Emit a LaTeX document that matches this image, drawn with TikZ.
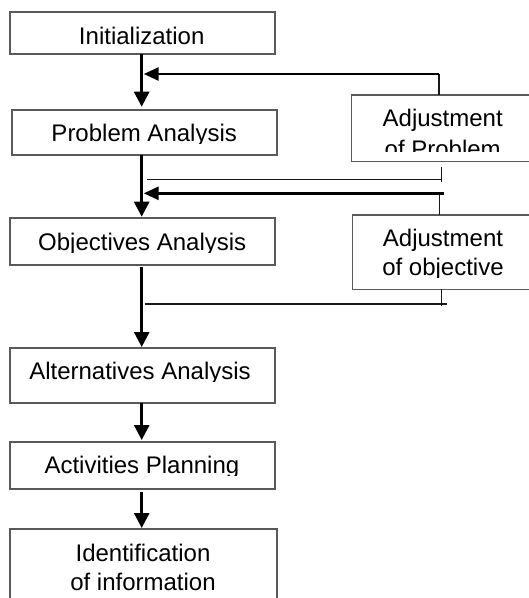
\documentclass[tikz,border=0pt]{standalone}
\usepackage{fontspec}
\setmainfont{Liberation Sans}
\usetikzlibrary{arrows.meta}
\begin{document}
\begin{tikzpicture}[x=1pt,y=-1pt,
  box/.style={draw=black!65, line width=1.1pt, inner sep=0pt, outer sep=0pt},
  txt/.style={font=\fontsize{24}{28}\selectfont, inner sep=0pt, anchor=base, text=black},
  mainarr/.style={line width=2.8pt, -{Triangle[length=15pt,width=15pt]}},
  fbarr/.style={line width=2.8pt, -{Triangle[length=15pt,width=13pt]}, shorten >=2pt},
  thinl/.style={line width=1.4pt, draw=black!90},
  stub/.style={line width=1.6pt, draw=black!90}]
\useasboundingbox (0,0) rectangle (529,598);
\clip (0,0) rectangle (529,598);

% boxes
\node[box, minimum width=265pt, minimum height=42pt] (init) at (142.5,33) {};
\node[box, minimum width=265pt, minimum height=45pt] (prob) at (144.5,132.5) {};
\node[box, minimum width=265pt, minimum height=47pt] (obj) at (142.5,241.5) {};
\node[box, minimum width=265pt, minimum height=55pt] (alt) at (142.5,375.5) {};
\node[box, minimum width=265pt, minimum height=47pt] (act) at (142.5,465.5) {};
\node[box, minimum width=267pt, minimum height=91pt] (ident) at (143.5,574.5) {};
\node[box, minimum width=188.3pt, minimum height=66.7pt] (adjp) at (445.85,128.35) {};
\node[box, minimum width=187.7pt, minimum height=74.3pt] (adjo) at (446.15,252.15) {};

% texts
\node[txt] (tinit) at (141.7,44) {Initialization};
\begin{scope}\clip (12,110) rectangle (277,143.3);
\node[txt] (tprob) at (144.2,141.7) {Problem Analysis};
\end{scope}
\begin{scope}\clip (352,95) rectangle (529,151);
\node[txt] (tadjp1) at (442.7,126.7) {Adjustment};
\node[txt] (tadjp2) at (442.7,157.7) {of Problem};
\end{scope}
\begin{scope}\clip (10,218) rectangle (275,252.3);
\node[txt] (tobj) at (142.2,250.3) {Objectives Analysis};
\end{scope}
\begin{scope}\clip (352,215) rectangle (529,277);
\node[txt] (tadjo1) at (443,246) {Adjustment};
\node[txt] (tadjo2) at (443,275) {of objective};
\end{scope}
\begin{scope}\clip (10,348) rectangle (275,381.3);
\node[txt] (talt) at (140,379.3) {Alternatives Analysis};
\end{scope}
\begin{scope}\clip (10,442) rectangle (275,475.3);
\node[txt] (tact) at (141.9,473.3) {Activities Planning};
\end{scope}
\node[txt] (tid1) at (143,561) {Identification};
\node[txt] (tid2) at (143,590) {of information};

% main flow
\coordinate (mx) at (141.7,0);
\draw[mainarr, shorten >=3.3pt] (init.south -| mx) -- (prob.north -| mx);
\draw[mainarr, shorten >=1.3pt] (prob.south -| mx) -- (obj.north -| mx);
\draw[mainarr, shorten <=2pt, shorten >=1pt] (obj.south -| mx) -- (alt.north -| mx);
\draw[mainarr, shorten >=2pt] (alt.south -| mx) -- (act.north -| mx);
\draw[mainarr, shorten <=3pt, shorten >=1pt] (act.south -| mx) -- (ident.north -| mx);

% feedback from Adjustment of Problem
\coordinate (f1) at (439,74);
\draw[stub] (adjp.north -| f1) -- (f1);
\draw[fbarr] (f1) -- (f1 -| mx);

% thin link Problem Analysis -> Adjustment of Problem
\coordinate (t1a) at (147,179.3);
\coordinate (t1b) at (441.7,179.3);
\coordinate (t1top) at (441.7,166.7);
\coordinate (t1bot) at (441.7,181.7);
\draw[thinl] (t1a) -- (t1b);
\draw[thinl] (t1top) -- (t1bot);

% feedback from Adjustment of objective
\coordinate (f2) at (444,193.3);
\coordinate (f2s) at (439.3,193.3);
\draw[stub] (adjo.north -| f2s) -- (f2s);
\draw[fbarr] (f2) -- (f2 -| mx);

% thin link Objectives Analysis -> Adjustment of objective
\coordinate (t2a) at (144.5,304);
\coordinate (t2b) at (446.7,304);
\coordinate (t2bot) at (441.7,305.5);
\draw[thinl] (t2a) -- (t2b);
\draw[thinl] (adjo.south -| t2bot) -- (t2bot);
\end{tikzpicture}
\end{document}
